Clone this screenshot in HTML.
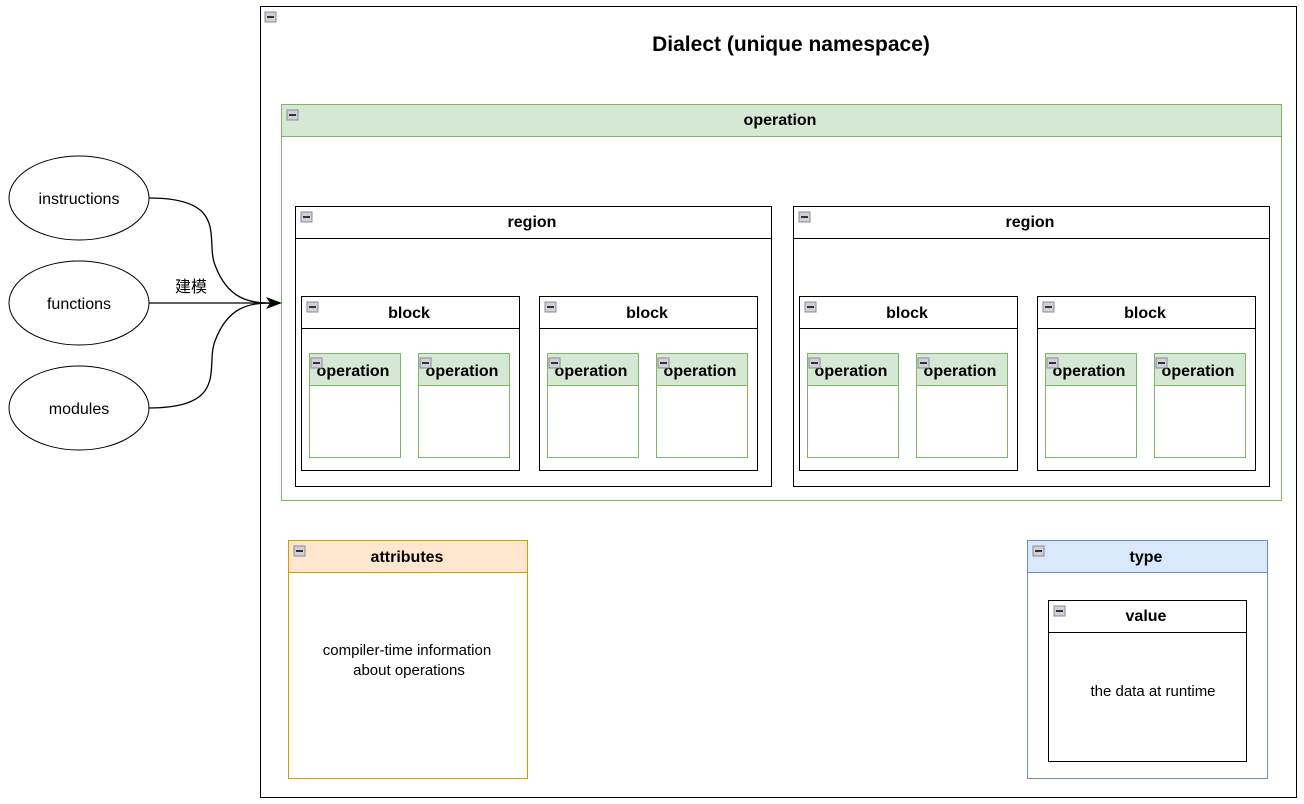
<!DOCTYPE html>
<html><head><meta charset="utf-8"><style>
html,body{margin:0;padding:0;background:#fff;width:1304px;height:804px;overflow:hidden}
svg text{font-family:"Liberation Sans","Noto Sans CJK SC",sans-serif}
</style></head><body>
<svg width="1304" height="804" viewBox="0 0 1304 804" xmlns="http://www.w3.org/2000/svg">
<defs>
<g id="ic"><rect x="0" y="0" width="11" height="10" fill="#d0d0d8" stroke="#8a8a99" stroke-width="1"/><rect x="2" y="4" width="7" height="2" fill="#333"/></g>
</defs>
<rect x="260.5" y="6.5" width="1036" height="791" fill="#fff" stroke="#000"/>
<use href="#ic" x="265" y="12"/>
<text x="791" y="51" font-size="21" font-weight="bold" text-anchor="middle">Dialect (unique namespace)</text>

<rect x="281.5" y="104.5" width="1000" height="396" fill="#fff" stroke="#82b366"/>
<rect x="281.5" y="104.5" width="1000" height="32" fill="#d5e8d4" stroke="#82b366"/>
<use href="#ic" x="287" y="110"/>
<text x="780" y="125" font-size="16" font-weight="bold" text-anchor="middle">operation</text>

<g id="reg">
<rect x="295.5" y="206.5" width="476" height="280" fill="#fff" stroke="#000"/>
<line x1="295.5" y1="238.5" x2="771.5" y2="238.5" stroke="#000"/>
<use href="#ic" x="301" y="212"/>
<text x="532" y="227" font-size="16" font-weight="bold" text-anchor="middle">region</text>
<g id="blk">
<rect x="301.5" y="296.5" width="218" height="174" fill="#fff" stroke="#000"/>
<line x1="301.5" y1="328.5" x2="519.5" y2="328.5" stroke="#000"/>
<use href="#ic" x="307" y="302"/>
<text x="409" y="318" font-size="16" font-weight="bold" text-anchor="middle">block</text>
<g id="op">
<rect x="309.5" y="353.5" width="91" height="104" fill="#fff" stroke="#82b366"/>
<rect x="309.5" y="353.5" width="91" height="32" fill="#d5e8d4" stroke="#82b366"/>
<text x="353" y="376" font-size="16" font-weight="bold" text-anchor="middle">operation</text>
<use href="#ic" x="311" y="358"/>
</g>
<use href="#op" x="109" y="0"/>
</g>
<use href="#blk" x="238" y="0"/>
</g>
<use href="#reg" x="498" y="0"/>

<rect x="288.5" y="540.5" width="239" height="238" fill="#fff" stroke="#d79b00"/>
<rect x="288.5" y="540.5" width="239" height="32" fill="#ffe6cc" stroke="#d79b00"/>
<use href="#ic" x="294" y="546"/>
<text x="407" y="562" font-size="16" font-weight="bold" text-anchor="middle">attributes</text>
<text x="407" y="655" font-size="15" text-anchor="middle">compiler-time information</text>
<text x="409" y="675" font-size="15" text-anchor="middle">about operations</text>

<rect x="1027.5" y="540.5" width="240" height="238" fill="#fff" stroke="#6c8ebf"/>
<rect x="1027.5" y="540.5" width="240" height="32" fill="#dae8fc" stroke="#6c8ebf"/>
<use href="#ic" x="1033" y="546"/>
<text x="1146" y="562" font-size="16" font-weight="bold" text-anchor="middle">type</text>
<rect x="1048.5" y="600.5" width="198" height="161" fill="#fff" stroke="#000"/>
<line x1="1048.5" y1="632.5" x2="1246.5" y2="632.5" stroke="#000"/>
<use href="#ic" x="1054" y="606"/>
<text x="1146" y="621" font-size="16" font-weight="bold" text-anchor="middle">value</text>
<text x="1153" y="696" font-size="15" text-anchor="middle">the data at runtime</text>

<ellipse cx="79" cy="198" rx="70" ry="42" fill="#fff" stroke="#000"/>
<ellipse cx="79" cy="303" rx="70" ry="42" fill="#fff" stroke="#000"/>
<ellipse cx="79" cy="408" rx="70" ry="42" fill="#fff" stroke="#000"/>
<text x="79" y="204" font-size="16" text-anchor="middle">instructions</text>
<text x="79" y="309" font-size="16" text-anchor="middle">functions</text>
<text x="79" y="414" font-size="16" text-anchor="middle">modules</text>

<g fill="none" stroke="#000" stroke-width="1.3">
<path d="M149 198 C 230 198, 205 240, 215 265 C 228 300, 250 303, 272 303"/>
<path d="M149 303 L 272 303"/>
<path d="M149 408 C 230 408, 205 366, 215 341 C 228 306, 250 303, 272 303"/>
</g>
<path d="M282 303 L 266 297 L 270 303 L 266 309 Z" fill="#000"/>
<rect x="172" y="276" width="38" height="20" fill="#fff"/>
<text x="191" y="292" font-size="16" text-anchor="middle">建模</text>
</svg>
</body></html>
